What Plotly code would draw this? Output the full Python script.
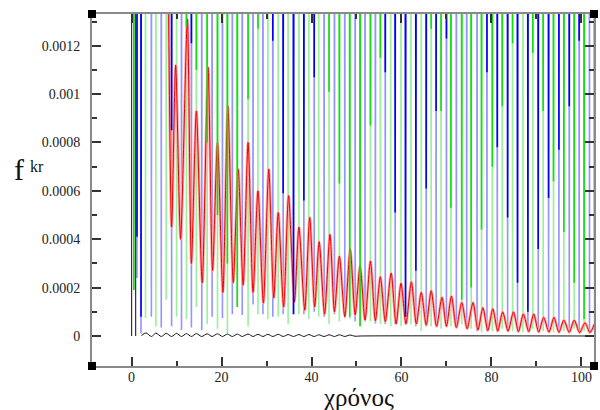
import plotly.graph_objects as go

# Level reached by the spiking series between their dips (far above the visible range)
PEAK = 0.05

# ---- blue set: dip positions, deepest value, and second-lowest sample of each dip
blue_x = [1.2, 2.1, 4.4, 6.6, 8.9, 11.1, 13.3, 15.6, 17.9, 20.2, 22.4, 24.6, 27.0, 29.2,
          31.4, 33.7, 36.0, 38.3, 40.6, 42.8, 45.1, 47.4, 49.7, 51.9, 54.2, 56.4, 58.6,
          60.9, 63.2, 65.5, 67.7, 70.0, 72.2, 74.5, 76.8, 79.0, 81.3, 83.6, 85.8, 88.1,
          90.4, 92.7, 95.0, 97.3, 99.5, 101.8]
blue_low = [0.00024, 0.00001, 0.00008, 0.000035, 0.00004, 0.000025, 0.000035, 0.000025,
            0.00008, 0.000073, 0.00009, 0.000087, 0.00013, 0.00009, 0.00008, 0.00009,
            0.00009, 0.00009, 0.0001, 0.00008, 0.00009, 0.000075, 0.00006, 0.00006,
            0.000052, 0.00005, 0.00005, 0.000045, 0.00004, 0.00004, 0.000045, 0.00004,
            0.000035, 0.00003, 0.00002, 0.00002, 0.000018, 0.000018, 0.000016, 0.000016,
            0.000015, 0.000015, 0.000014, 0.000014, 0.000013, 0.000013]
blue_mid = [0.00041, 0.00008, 0.0016, 0.0015, 0.00085, 0.0014, 0.00121, 0.0015, 0.0018,
            0.0021, 0.0023, 0.0021, 0.0018, 0.0015, 0.00122, 0.00059, 0.00009, 0.00056,
            0.00107, 0.0014, 0.0017, 0.0020, 0.0022, 0.0019, 0.0015, 0.00109, 0.00051,
            0.00008, 0.00027, 0.00061, 0.00093, 0.00123, 0.0015, 0.0016, 0.0014, 0.00109,
            0.00078, 0.00049, 0.00022, 0.00010, 0.00036, 0.00057, 0.00077, 0.00095,
            0.00122, 0.0015]

# ---- green set
green_x = [0.5, 3.1, 5.4, 7.7, 10.0, 12.2, 14.4, 16.8, 19.1, 21.3, 23.5, 25.9, 28.1, 30.3,
           32.6, 34.8, 37.2, 39.4, 41.6, 43.9, 46.2, 48.5, 50.8, 53.1, 55.3, 57.6, 59.9,
           62.1, 64.4, 66.6, 68.8, 71.0, 73.4, 75.5, 77.8, 80.2, 82.4, 84.7, 87.0, 89.2,
           91.5, 93.8, 96.1, 98.4, 100.6, 102.9]
green_low = [0.00019, 0.000074, 0.00004, 0.00015, 0.00008, 0.00007, 0.00012, 0.00005,
             0.00003, 0.00001, 0.00012, 0.00004, 0.00009, 0.00007, 0.00008, 0.00005,
             0.00009, 0.00007, 0.00008, 0.00005, 0.00006, 0.00007, 0.00004, 0.00006,
             0.00005, 0.00004, 0.00004, 0.00005, 0.00002, 0.00004, 0.00003, 0.00004,
             0.00005, 0.00003, 0.000015, 0.00002, 0.00003, 0.00002, 0.000015, 0.00003,
             0.00002, 0.000015, 0.00002, 0.00003, 0.00002, 0.00002]
green_mid = [0.00019, 0.0015, 0.0016, 0.0017, 0.0015, 0.00128, 0.0011, 0.0008, 0.0005,
             0.0003, 0.00012, 0.00098, 0.00127, 0.0016, 0.0019, 0.0021, 0.0019, 0.0016,
             0.0014, 0.00101, 0.00063, 0.00008, 0.00004, 0.00087, 0.00115, 0.0015, 0.0018,
             0.0017, 0.0015, 0.00127, 0.00093, 0.00053, 0.00015, 0.0002, 0.00044, 0.0007,
             0.00095, 0.00121, 0.0015, 0.00117, 0.00093, 0.00064, 0.00043, 0.00022,
             0.00007, 0.0003]

# ---- red set: alternating maxima and minima of the damped oscillation
red_x = [8.1, 8.9, 9.8, 10.9, 12.4, 13.3, 14.4, 15.7, 17.0, 18.0, 19.1, 20.3, 21.4, 22.6,
         23.7, 24.8, 25.9, 27.0, 28.1, 29.3, 30.5, 31.6, 32.6, 33.8, 34.9, 36.2, 37.2,
         38.5, 39.6, 40.7, 41.7, 42.9, 44.1, 45.1, 46.2, 47.4, 48.6, 49.7, 50.8, 51.9,
         53.1, 54.2, 55.3, 56.4, 57.7, 58.8, 59.9, 61.0, 62.2, 63.3, 64.4, 65.5, 66.6,
         67.8, 69.0, 70.0, 71.1, 72.2, 73.4, 74.6, 75.9, 77.0, 78.1, 79.2, 80.3, 81.4,
         82.5, 83.7, 84.9, 86.0, 87.1, 88.3, 89.4, 90.5, 91.6, 92.8, 93.9, 95.0, 96.1,
         97.3, 98.4, 99.6, 100.8, 101.9, 102.9]
red_y = [0.0016, 0.00045, 0.00112, 0.00040, 0.00131, 0.00030, 0.00093, 0.00022, 0.00111,
         0.00027, 0.00080, 0.00018, 0.00095, 0.00022, 0.00069, 0.00021, 0.00080, 0.00018,
         0.00060, 0.000136, 0.00069, 0.000157, 0.00051, 0.00012, 0.00058, 0.00014,
         0.00045, 0.000107, 0.00049, 0.00012, 0.00039, 0.00009, 0.00042, 0.00010,
         0.00033, 0.00008, 0.00036, 0.000087, 0.00029, 0.000066, 0.00031, 0.000063,
         0.000245, 0.00006, 0.00026, 0.00005, 0.000218, 0.00005, 0.000224, 0.00005,
         0.00018, 0.000045, 0.000187, 0.00004, 0.00016, 0.00004, 0.000165, 0.000035,
         0.000138, 0.00003, 0.000138, 0.000025, 0.000117, 0.000022, 0.000113, 0.00002,
         0.0001, 0.00002, 0.0001, 0.000018, 0.000091, 0.000018, 0.000091, 0.000016,
         0.000077, 0.000016, 0.000077, 0.000015, 0.000066, 0.000015, 0.000066, 0.000014,
         0.000055, 0.000014, 0.00005]

# ---- black set: start-up spike, small ripple around zero, then flat
black_spike_x = [0.0, 0.05, 0.85, 0.9]
black_spike_y = [0.0, PEAK, PEAK, 0.0]
black_x = [2.2, 3.2, 4.4, 5.4, 6.6, 7.7, 8.9, 10.0, 11.1, 12.2, 13.3, 14.4, 15.6, 16.8,
           17.9, 19.1, 20.2, 21.3, 22.4, 23.5, 24.6, 25.9, 27.0, 28.1, 29.2, 30.3, 31.4,
           32.6, 33.7, 34.8, 36.0, 37.2, 38.3, 39.4, 40.6, 41.6, 42.8, 43.9, 45.1, 46.2,
           47.4, 48.5, 49.7, 50.8, 104.0]
black_y = [0.000002, 0.000013, -0.000002, 0.000012, -0.000002, 0.000011, -0.000002,
           0.000011, -0.000002, 0.00001, -0.000002, 0.00001, -0.000002, 0.000009,
           -0.000002, 0.000009, -0.000002, 0.000008, -0.000002, 0.000008, -0.000002,
           0.000008, -0.000002, 0.000007, -0.000002, 0.000007, -0.000002, 0.000007,
           -0.000002, 0.000006, -0.000002, 0.000006, -0.000002, 0.000006, -0.000002,
           0.000005, -0.000002, 0.000005, -0.000002, 0.000005, -0.000002, 0.000004,
           -0.000001, 0.0, 0.0]

# ---- axes
x_range = [-8.8, 102.8]
y_range = [-0.000124, 0.001331]
y_ticks = [0, 0.0002, 0.0004, 0.0006, 0.0008, 0.001, 0.0012]
y_tick_text = ["0", "0.0002", "0.0004", "0.0006", "0.0008", "0.001", "0.0012"]
y_minor = [0.0001, 0.0003, 0.0005, 0.0007, 0.0009, 0.0011, 0.0013]

SERIF = "Liberation Serif"


def dip_series(xs, ys):
    """Series that sits far above the axis and drops down to ys at each xs."""
    px, py = [xs[0]], [PEAK]
    for i, (x, y) in enumerate(zip(xs, ys)):
        px.append(x)
        py.append(y)
        nxt = xs[i + 1] if i + 1 < len(xs) else x
        px.append((x + nxt) / 2)
        py.append(PEAK)
    return px, py


fig = go.Figure()


def add_line(x, y, color, width, shape="linear"):
    line = dict(color=color, width=width, shape=shape, simplify=False)
    if shape == "spline":
        line["smoothing"] = 0.7
    fig.add_trace(go.Scatter(x=x, y=y, mode="lines", hoverinfo="skip", line=line))


gx, gy = dip_series(green_x, green_low)
add_line(gx, gy, "#9cf09c", 1.6)
bx, by = dip_series(blue_x, blue_low)
add_line(bx, by, "#9494ff", 1.6)
add_line(red_x, red_y, "#ffa8a8", 2.8, shape="spline")
add_line(red_x, red_y, "#ee0000", 1.0, shape="spline")
gx, gy = dip_series(green_x, green_mid)
add_line(gx, gy, "#10e010", 1.6)
bx, by = dip_series(blue_x, blue_mid)
add_line(bx, by, "#0000ff", 1.6)
add_line(black_spike_x, black_spike_y, "#333333", 1.2)
add_line(black_x, black_y, "#111111", 1.0, shape="spline")

tick_font = dict(family=SERIF, size=14, color="#222222")
axis_common = dict(showgrid=False, zeroline=False, showline=True, linecolor="#8a8a8a",
                   linewidth=2, mirror="allticks", ticks="inside", ticklen=9,
                   tickwidth=1.5, tickcolor="#333333", tickfont=tick_font)

fig.update_xaxes(range=x_range, tick0=0, dtick=20,
                 minor=dict(dtick=10, tick0=0, ticks="inside", ticklen=5,
                            tickwidth=1.5, tickcolor="#333333"),
                 ticklabelstandoff=-3, **axis_common)
fig.update_yaxes(range=y_range, tickmode="array", tickvals=y_ticks, ticktext=y_tick_text,
                 minor=dict(tickmode="array", tickvals=y_minor, ticks="inside", ticklen=5,
                            tickwidth=1.5, tickcolor="#333333"),
                 ticklabelstandoff=7, **axis_common)

# corner handles of the frame
handles = []
for cx in (0, 1):
    for cy in (0, 1):
        handles.append(dict(type="rect", xref="paper", yref="paper",
                            xsizemode="pixel", ysizemode="pixel",
                            xanchor=cx, yanchor=cy, x0=-4, x1=4, y0=-4, y1=4,
                            fillcolor="black", line=dict(width=0), layer="above"))

fig.update_layout(
    width=600, height=410,
    margin=dict(l=92, r=4, t=14, b=44),
    paper_bgcolor="white", plot_bgcolor="white",
    font=dict(family=SERIF),
    showlegend=False, hovermode=False,
    shapes=handles,
    annotations=[
        dict(text="f", xref="paper", yref="paper", x=-0.145, y=0.557,
             xanchor="center", yanchor="middle", showarrow=False,
             font=dict(family=SERIF, size=30, color="#111111")),
        dict(text="kr", xref="paper", yref="paper", x=-0.110, y=0.568,
             xanchor="center", yanchor="middle", showarrow=False,
             font=dict(family=SERIF, size=16, color="#111111")),
        dict(text="χρόνος", xref="paper", yref="paper", x=0.53, y=-0.09,
             xanchor="center", yanchor="middle", showarrow=False,
             font=dict(family=SERIF, size=25, color="#111111")),
    ],
)

fig.write_html("out.html", config={"displayModeBar": False})
